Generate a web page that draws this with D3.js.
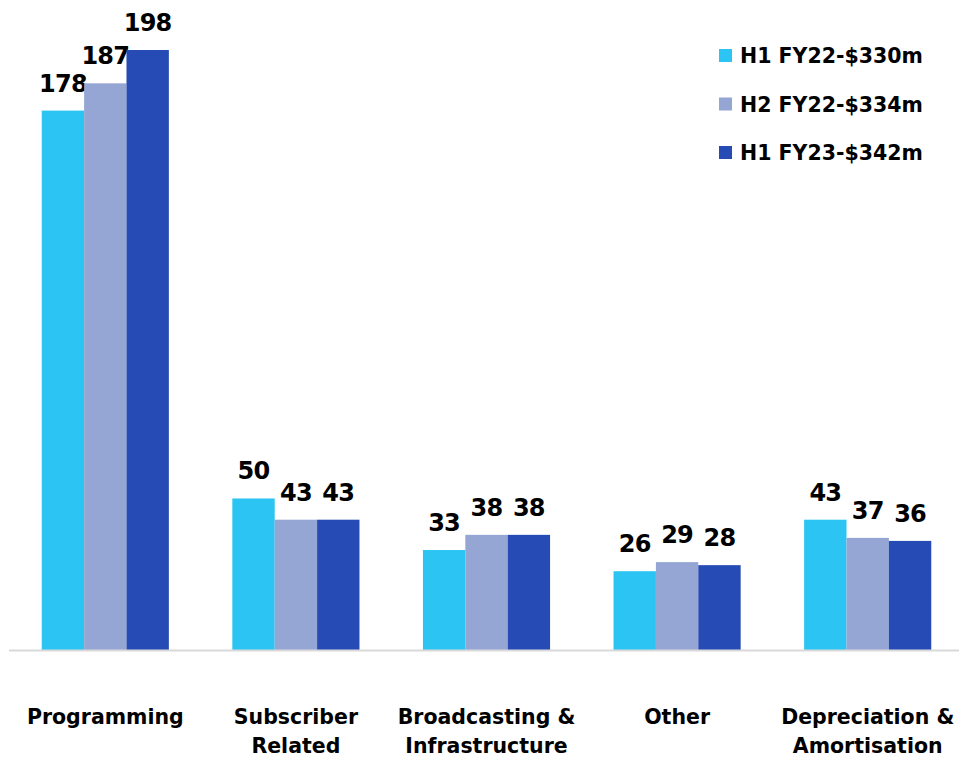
<!DOCTYPE html>
<html>
<head>
<meta charset="utf-8">
<script src="https://cdn.jsdelivr.net/npm/d3@7"></script>
<style>
  body { margin: 0; background: #fff; }
  svg text { font-family: "DejaVu Sans", sans-serif; font-weight: 700; fill: #000; }
</style>
</head>
<body>
<div id="chart"></div>
<script>
var categories = [["Programming"], ["Subscriber", "Related"], ["Broadcasting &", "Infrastructure"], ["Other"], ["Depreciation &", "Amortisation"]];
var seriesNames = ["H1 FY22-$330m", "H2 FY22-$334m", "H1 FY23-$342m"];
var h1fy22 = [178, 50, 33, 26, 43];
var h2fy22 = [187, 43, 38, 29, 37];
var h1fy23 = [198, 43, 38, 28, 36];
var colors = ["#2bc4f3", "#95a6d4", "#264bb4"];

var width = 959, height = 758;
var baseY = 650;
var series = [h1fy22, h2fy22, h1fy23];

var svg = d3.select("#chart").append("svg")
    .attr("width", width)
    .attr("height", height);

var x0 = d3.scaleBand()
    .domain(d3.range(categories.length))
    .range([10, 963])
    .paddingInner(0.333)
    .paddingOuter(0.1665);

var x1 = d3.scaleBand()
    .domain(d3.range(series.length))
    .range([0, x0.bandwidth()]);

var y = d3.scaleLinear()
    .domain([0, 198])
    .range([baseY, 50]);

// bars
var groups = svg.selectAll("g.grp")
    .data(categories)
    .enter().append("g")
    .attr("class", "grp")
    .attr("transform", function(d, i) { return "translate(" + x0(i) + ",0)"; });

groups.each(function(c, i) {
    var g = d3.select(this);
    series.forEach(function(s, j) {
        g.append("rect")
            .attr("x", x1(j))
            .attr("y", y(s[i]))
            .attr("width", x1.bandwidth())
            .attr("height", baseY - y(s[i]))
            .style("fill", colors[j]);
        g.append("text")
            .attr("x", x1(j) + x1.bandwidth() / 2)
            .attr("y", y(s[i]) - 19)
            .attr("text-anchor", "middle")
            .attr("font-size", 24)
            .attr("letter-spacing", -0.8)
            .text(s[i]);
    });
});

// baseline
svg.append("line")
    .attr("x1", 9).attr("x2", 959)
    .attr("y1", baseY + 0.5).attr("y2", baseY + 0.5)
    .style("stroke", "#d9d9d9")
    .style("stroke-width", 2);

// category labels
groups.each(function(c, i) {
    var t = d3.select(this).append("text")
        .attr("x", x0.bandwidth() / 2)
        .attr("y", 724)
        .attr("text-anchor", "middle")
        .attr("font-size", 20.5);
    c.forEach(function(line, k) {
        t.append("tspan")
            .attr("x", x0.bandwidth() / 2)
            .attr("dy", k === 0 ? 0 : 29)
            .text(line);
    });
});

// legend
var legend = svg.selectAll("g.leg")
    .data(seriesNames)
    .enter().append("g")
    .attr("class", "leg")
    .attr("transform", function(d, i) { return "translate(719," + (49 + i * 48.5) + ")"; });

legend.append("rect")
    .attr("width", 13).attr("height", 13)
    .style("fill", function(d, i) { return colors[i]; });

legend.append("text")
    .attr("x", 21)
    .attr("y", 14)
    .attr("font-size", 20.5)
    .text(function(d) { return d; });
</script>
</body>
</html>
